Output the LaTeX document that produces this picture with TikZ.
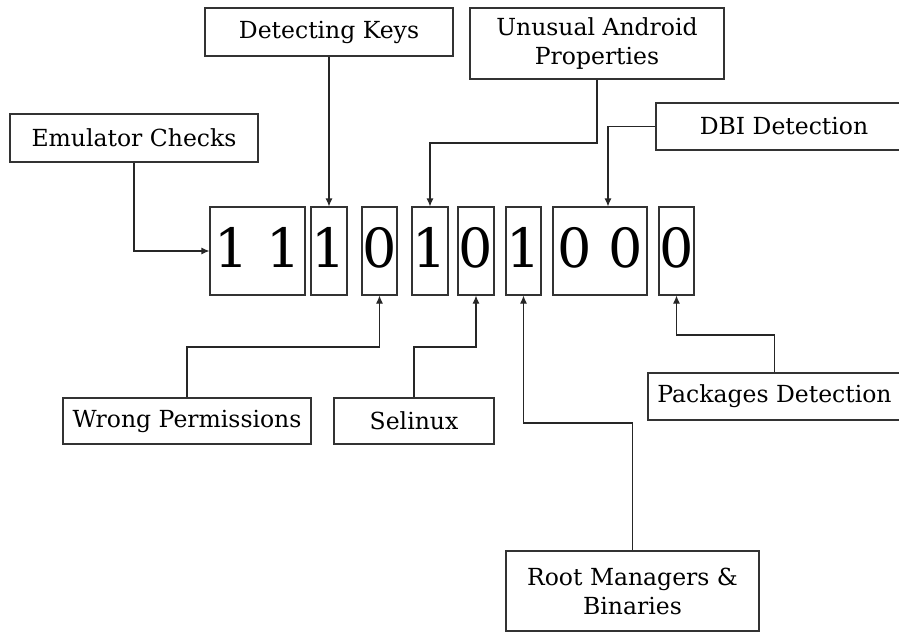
\documentclass[tikz,border=0pt]{standalone}
\usepackage{fontspec}
\setmainfont{DejaVu Serif}
\usetikzlibrary{arrows.meta,calc}

\tikzset{
  label box/.style={draw=black!80, line width=1.1pt, rectangle, inner sep=0pt,
    align=center, font=\fontsize{23.5}{29}\selectfont},
  bit box/.style={draw=black!80, line width=1.1pt, rectangle, inner sep=0pt,
    minimum height=88pt, text depth=7pt, font=\fontsize{54}{60}\selectfont},
  link/.style={draw=black!85, line width=1.1pt, -{Latex[length=8pt,width=7pt]}}
}

\begin{document}
\begin{tikzpicture}[x=1pt, y=-1pt]
  \clip (0,0) rectangle (899,635);
  \fill[white] (0,0) rectangle (899,635);

  % the bit string
  \node[bit box, minimum width=95pt] (d1) at (257.5,251) {1 1};
  \node[bit box, minimum width=36pt] (d2) at (329,251) {1};
  \node[bit box, minimum width=35pt] (d3) at (379.5,251) {0};
  \node[bit box, minimum width=36pt] (d4) at (430,251) {1};
  \node[bit box, minimum width=36pt] (d5) at (476,251) {0};
  \node[bit box, minimum width=35pt] (d6) at (523.5,251) {1};
  \node[bit box, minimum width=94pt] (d7) at (600,251) {0 0};
  \node[bit box, minimum width=35pt] (d8) at (676.5,251) {0};

  % labels above
  \node[label box, minimum width=248pt, minimum height=48pt] (emu) at (134,138) {Emulator Checks};
  \node[label box, minimum width=248pt, minimum height=48pt] (keys) at (329,32) {Detecting Keys};
  \node[label box, minimum width=254pt, minimum height=71pt] (prop) at (597,43.5) {Unusual Android\\Properties};
  \node[label box, minimum width=256pt, minimum height=47pt] (dbi) at (784,126.5) {DBI Detection};

  % labels below
  \node[label box, minimum width=248pt, minimum height=46pt] (perm) at (187,421) {Wrong Permissions};
  \node[label box, minimum width=160pt, minimum height=46pt] (selx) at (414,421) {Selinux};
  \node[label box, minimum width=253pt, minimum height=47pt] (pkg) at (774.5,396.5) {Packages Detection};
  \node[label box, minimum width=253pt, minimum height=80pt] (root) at (632.5,591) {Root Managers \&\\Binaries};

  % connectors
  \draw[link] (emu.south) |- (d1.west);
  \draw[link] (keys.south) -- (d2.north);
  \draw[link] (prop.south) -- (prop.south |- 0,143) -| (d4.north);
  \draw[link] (dbi.west) -| ([xshift=8pt]d7.north);
  \draw[link] (pkg.north) -- (pkg.north |- 0,335) -| (d8.south);
  \draw[link] (perm.north) -- (perm.north |- 0,347) -| (d3.south);
  \draw[link] (selx.north) -- (selx.north |- 0,347) -| (d5.south);
  \draw[link] (root.north) -- (root.north |- 0,423) -| (d6.south);
\end{tikzpicture}
\end{document}
